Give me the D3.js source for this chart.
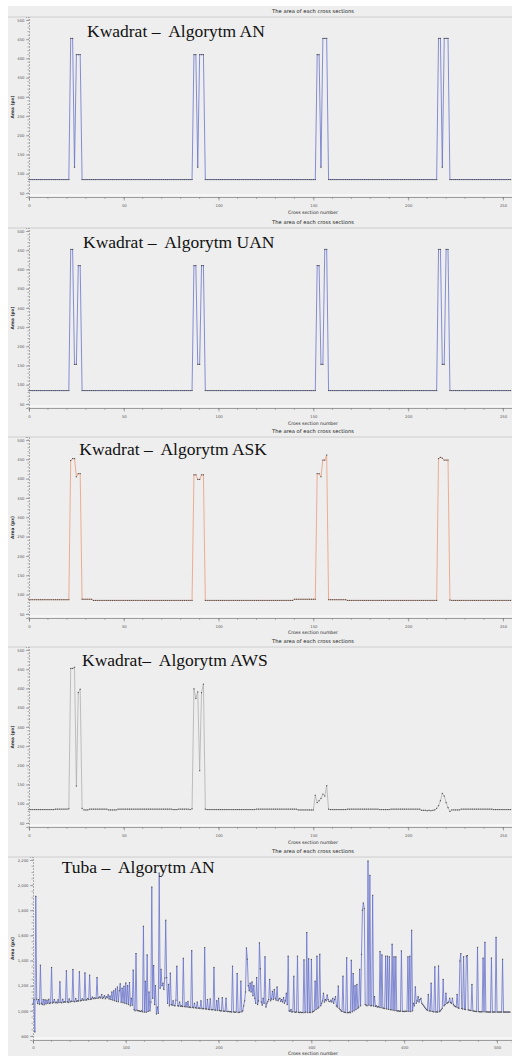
<!DOCTYPE html>
<html><head><meta charset="utf-8">
<script src="https://cdn.jsdelivr.net/npm/d3@7"></script>
<style>body{margin:0;background:#fff}svg{display:block}</style>
</head><body><div id="chart"></div>
<script>
// ---------- DATA ----------
const kwadratXTicks = [0, 50, 100, 150, 200, 250];
const kwadratYTicks = [50, 100, 150, 200, 250, 300, 350, 400, 450, 500];
const tubaXTicks = [0, 100, 200, 300, 400, 500];
const tubaYTicks = [800, 1000, 1200, 1400, 1600, 1800, 2000, 2200];
const chartTitle = "The area of each cross sections";
const xAxisTitle = "Cross section number";
const yAxisTitle = "Area (px)";

const anValues = [
85,85,85,85,85,85,85,85,85,85,85,85,85,85,85,
85,85,85,85,85,85,85,452,452,117,410,410,410,85,85,
85,85,85,85,85,85,85,85,85,85,85,85,85,85,85,
85,85,85,85,85,85,85,85,85,85,85,85,85,85,85,
85,85,85,85,85,85,85,85,85,85,85,85,85,85,85,
85,85,85,85,85,85,85,85,85,85,85,85,410,410,117,
410,410,410,85,85,85,85,85,85,85,85,85,85,85,85,
85,85,85,85,85,85,85,85,85,85,85,85,85,85,85,
85,85,85,85,85,85,85,85,85,85,85,85,85,85,85,
85,85,85,85,85,85,85,85,85,85,85,85,85,85,85,
85,85,410,410,117,452,452,452,85,85,85,85,85,85,85,
85,85,85,85,85,85,85,85,85,85,85,85,85,85,85,
85,85,85,85,85,85,85,85,85,85,85,85,85,85,85,
85,85,85,85,85,85,85,85,85,85,85,85,85,85,85,
85,85,85,85,85,85,452,452,117,452,452,452,85,85,85,
85,85,85,85,85,85,85,85,85,85,85,85,85,85,85,
85,85,85,85,85,85,85,85,85,85,85,85,85,85,85];

const uanValues = [
85,85,85,85,85,85,85,85,85,85,85,85,85,85,85,
85,85,85,85,85,85,85,452,452,153,153,410,410,85,85,
85,85,85,85,85,85,85,85,85,85,85,85,85,85,85,
85,85,85,85,85,85,85,85,85,85,85,85,85,85,85,
85,85,85,85,85,85,85,85,85,85,85,85,85,85,85,
85,85,85,85,85,85,85,85,85,85,85,85,410,410,153,
153,410,410,85,85,85,85,85,85,85,85,85,85,85,85,
85,85,85,85,85,85,85,85,85,85,85,85,85,85,85,
85,85,85,85,85,85,85,85,85,85,85,85,85,85,85,
85,85,85,85,85,85,85,85,85,85,85,85,85,85,85,
85,85,410,410,153,153,452,452,85,85,85,85,85,85,85,
85,85,85,85,85,85,85,85,85,85,85,85,85,85,85,
85,85,85,85,85,85,85,85,85,85,85,85,85,85,85,
85,85,85,85,85,85,85,85,85,85,85,85,85,85,85,
85,85,85,85,85,85,452,452,153,153,452,452,85,85,85,
85,85,85,85,85,85,85,85,85,85,85,85,85,85,85,
85,85,85,85,85,85,85,85,85,85,85,85,85,85,85];

const askValues = [
87,87,87,87,87,87,87,87,87,87,87,87,87,87,87,
87,87,87,87,87,87,87,447,452,452,405,413,413,88,88,
88,88,88,88,85,85,85,85,85,85,85,85,85,85,85,
85,85,85,85,85,85,85,85,85,85,85,85,85,85,85,
85,85,85,85,85,85,85,85,85,85,85,85,85,85,85,
85,85,85,85,85,85,85,85,85,85,85,85,410,410,398,
398,410,410,85,85,85,85,85,85,85,85,85,85,85,85,
85,85,85,85,85,85,85,85,85,85,85,85,85,85,85,
85,85,85,85,85,85,85,85,85,85,85,85,85,85,85,
85,85,85,85,85,88,88,88,88,88,88,88,88,88,88,
88,88,413,413,405,448,448,461,87,87,87,87,87,87,87,
87,87,87,85,85,85,85,85,85,85,85,85,85,85,85,
85,85,85,85,85,85,85,85,85,85,85,85,85,85,85,
85,85,85,85,85,85,85,85,85,85,85,85,85,85,85,
85,85,85,85,85,85,452,455,453,448,448,448,86,85,85,
85,85,85,85,85,85,85,85,85,85,85,85,85,85,85,
85,85,85,85,85,85,85,85,85,85,85,85,85,85,85];

const awsValues = [
85,85,85,85,85,85,85,85,85,85,85,85,85,85,86,
86,86,86,86,86,86,87,452,452,455,146,389,398,88,84,
84,84,86,86,86,86,86,86,86,86,86,86,84,84,84,
84,84,86,86,86,86,86,86,86,86,86,86,86,86,86,
86,86,86,86,86,86,86,86,86,86,86,86,86,86,86,
86,85,85,85,86,86,86,86,86,86,85,87,399,374,391,
186,389,411,86,85,85,85,85,85,85,85,85,85,85,85,
85,85,85,85,85,85,85,85,85,85,85,85,85,85,85,
86,86,86,86,86,86,86,86,86,86,86,86,86,86,86,
86,86,86,86,86,86,86,84,84,84,84,84,84,84,84,
84,122,103,108,114,125,120,147,86,85,85,85,85,85,85,
85,85,85,86,86,86,86,86,86,86,86,86,86,86,86,
86,86,86,86,86,85,85,85,85,85,85,86,86,86,86,
86,86,86,86,86,86,86,86,86,86,86,86,83,83,83,
82,83,82,83,84,88,95,108,127,120,103,90,80,84,84,
84,84,84,86,86,86,86,86,86,86,86,86,86,86,86,
86,86,86,86,86,85,85,85,85,85,85,85,85,85,85];

const tubaValues = [
1054,1090,832,1911,1092,1058,1090,1052,1363,1060,
1050,1090,1048,1088,1055,1085,1060,1092,1058,1065,
1345,1062,1068,1090,1064,1070,1062,1088,1066,1231,
1068,1064,1092,1068,1072,1070,1318,1072,1066,1095,
1070,1078,1074,1329,1076,1072,1098,1075,1080,1078,
1310,1080,1082,1096,1084,1086,1302,1085,1088,1098,
1090,1284,1092,1094,1110,1096,1104,1098,1100,1265,
1100,1104,1112,1102,1130,1098,1108,1120,1096,1112,
1104,1128,1094,1118,1090,1150,1085,1160,1080,1175,
1075,1190,1072,1160,1215,1068,1180,1065,1195,1060,
1222,1055,1200,1050,1225,1040,1100,1045,1324,1010,
1000,1456,1005,1000,1002,998,995,1000,992,1673,
990,1235,988,1445,995,1150,1000,1070,1985,1100,
1360,1050,1200,975,1030,980,2096,1180,1330,1200,
1220,1170,1260,1721,1265,1060,1210,1040,1300,1050,
1045,1080,1042,1040,1085,1355,1040,1038,1070,1036,
1040,1034,1418,1035,1032,1065,1030,1075,1028,1030,
1026,1479,1028,1024,1060,1025,1022,1070,1020,1024,
1018,1080,1020,1016,1018,1503,1015,1014,1090,1012,
1010,1095,1010,1008,1010,1345,1006,1004,1080,1004,
1100,1002,1000,1000,1105,998,996,998,1100,995,
994,996,992,994,990,1355,992,990,988,992,
1297,988,986,990,1236,992,1000,1040,1080,1150,
1500,1410,1200,1160,1220,1150,1230,1120,1200,1100,
1060,1265,1050,1080,1541,1335,1070,1045,1100,1060,
1430,1030,1060,1075,1090,1250,1080,1095,1155,1090,
1170,1100,1085,1190,1080,1095,1100,1075,1090,1070,
1105,1060,1080,1140,1050,1435,1000,995,1010,990,
994,1275,990,988,992,1435,988,986,990,986,
988,985,1406,986,990,1623,985,1414,988,986,
1409,990,995,1000,1236,1010,1435,1020,1030,1450,
1040,1060,1080,1140,1070,1090,1080,1126,1090,1075,
1073,1085,1070,1100,1060,1090,1113,1040,1030,1197,
1020,1010,1000,995,1276,990,988,986,1422,985,
986,990,985,1402,992,1297,1000,1200,1010,1210,
1020,1030,1330,1040,1450,1800,1858,1813,1050,1045,
1040,2192,1045,2078,1040,1042,1919,1038,1113,1035,
1040,1030,1035,1028,1472,1025,1445,1022,1020,1018,
1435,1015,1435,1012,1430,1010,1008,1530,1005,1430,
1002,1430,1000,998,1000,996,998,1477,995,996,
994,998,995,996,1430,995,1435,994,1641,1000,
1060,1040,1190,1060,1080,1113,1070,1090,1100,1060,
1050,1040,1030,1020,1010,1005,1130,1000,998,1220,
996,994,992,1350,990,992,990,1357,994,1000,
1010,1020,1250,1040,1050,1140,1060,1065,1070,1100,
1065,1060,1100,1050,1040,1035,1030,1130,1025,1020,
1396,1455,1018,1015,1430,1012,1010,1435,1440,1008,
1005,1004,1002,1210,1000,998,996,995,994,1505,
994,993,992,993,992,1420,992,1545,991,992,
991,990,991,990,1420,990,991,990,990,1585,
990,991,990,990,991,990,1410,990,990,991,
990,990,991,990,990];

// ---------- LAYOUT ----------
const W = 512, H = 1056;
const panels = [
  {name:"Kwadrat –  Algorytm AN",  data:anValues,  color:"#6a74cc", top:17,  axis:197,  titleY:13,   tickY:207,   xlabY:214,  bx:87, by:37.3, kind:"kw"},
  {name:"Kwadrat –  Algorytm UAN", data:uanValues, color:"#6a74cc", top:228, axis:408,  titleY:224,  tickY:418,   xlabY:425,  bx:83, by:248.3, kind:"kw"},
  {name:"Kwadrat –  Algorytm ASK", data:askValues, color:"#eb9a78", top:437, axis:618,  titleY:433,  tickY:627.5, xlabY:634,  bx:79.3, by:455, kind:"kw"},
  {name:"Kwadrat–  Algorytm AWS",  data:awsValues, color:"#b0b0b0", top:647, axis:827,  titleY:643,  tickY:837,   xlabY:844,  bx:82, by:666, kind:"kw"},
  {name:"Tuba –  Algorytm AN",     data:tubaValues,color:"#6a74cc", top:857, axis:1040, titleY:852.5,tickY:1049,  xlabY:1055, bx:61.7, by:873.3, kind:"tuba"}
];

const svg = d3.select("#chart").append("svg").attr("width", W).attr("height", H);
svg.append("rect").attr("width", W).attr("height", H).attr("fill", "#fff");
svg.append("rect").attr("x", 8).attr("y", 6).attr("width", W - 8).attr("height", H - 6).attr("fill", "#eeeeee");

const smallFont = "DejaVu Sans, sans-serif";

panels.forEach(p => {
  const g = svg.append("g");
  const isKw = p.kind === "kw";
  const x0 = isKw ? 29 : 33;
  const x = isKw ? d3.scaleLinear().domain([0, 255]).range([29, 29 + 255 * 1.896])
                 : d3.scaleLinear().domain([0, 516]).range([33, 33 + 516 * 0.928]);
  const y = isKw ? d3.scaleLinear().domain([39.6, 507.8]).range([p.axis, p.top])
                 : d3.scaleLinear().domain([768, 2224]).range([p.axis, p.top]);
  const xTicks = isKw ? kwadratXTicks : tubaXTicks;
  const yTicks = isKw ? kwadratYTicks : tubaYTicks;
  const minorStepX = isKw ? 10 : 20;
  const minorStepY = isKw ? 10 : 50;

  // title + separator line
  g.append("text").attr("x", 313).attr("y", p.titleY).attr("text-anchor", "middle")
    .attr("font-family", smallFont).attr("font-size", 5.2).attr("fill", "#222").text(chartTitle);
  g.append("line").attr("x1", 8).attr("x2", W).attr("y1", p.top).attr("y2", p.top)
    .attr("stroke", "#c4c4c4").attr("stroke-width", 0.8);
  g.append("line").attr("x1", x0).attr("x2", W).attr("y1", p.axis - 2).attr("y2", p.axis - 2)
    .attr("stroke", "#ffffff").attr("stroke-width", 1);

  // y axis
  const yMinor = d3.range(Math.ceil(y.domain()[0] / minorStepY) * minorStepY, y.domain()[1], minorStepY);
  g.append("g").selectAll("line").data(yMinor).join("line")
    .attr("x1", x0 - 1.5).attr("x2", x0).attr("y1", d => y(d)).attr("y2", d => y(d))
    .attr("stroke", "#888").attr("stroke-width", 0.6);
  const yAx = g.append("g").attr("transform", `translate(${x0},0)`)
    .call(d3.axisLeft(y).tickValues(yTicks).tickSize(3).tickPadding(1.5)
      .tickFormat(isKw ? d3.format("d") : d3.format(",")));
  yAx.select(".domain").attr("stroke", "#999").attr("stroke-width", 0.8).attr("stroke-dasharray", "2,1");
  yAx.selectAll(".tick line").attr("stroke", "#777").attr("stroke-width", 0.6);
  yAx.selectAll(".tick text").attr("font-family", smallFont).attr("font-size", 3.8).attr("fill", "#555");

  // x axis
  const xMinor = d3.range(0, x.domain()[1], minorStepX);
  g.append("g").selectAll("line").data(xMinor).join("line")
    .attr("x1", d => x(d)).attr("x2", d => x(d)).attr("y1", p.axis).attr("y2", p.axis + 2)
    .attr("stroke", "#888").attr("stroke-width", 0.6);
  const xAx = g.append("g").attr("transform", `translate(0,${p.axis})`)
    .call(d3.axisBottom(x).tickValues(xTicks).tickSize(3.5).tickFormat(d3.format("d")));
  xAx.select(".domain").attr("stroke", "#888").attr("stroke-width", 0.8);
  xAx.selectAll(".tick line").attr("stroke", "#777").attr("stroke-width", 0.6);
  xAx.selectAll(".tick text").attr("font-family", smallFont).attr("font-size", 3.8).attr("fill", "#555")
    .attr("y", p.tickY - p.axis).attr("dy", 0);

  g.append("text").attr("x", 313).attr("y", p.xlabY).attr("text-anchor", "middle")
    .attr("font-family", smallFont).attr("font-size", 4.6).attr("fill", "#222").text(xAxisTitle);
  const midY = (p.top + p.axis) / 2;
  g.append("text").attr("transform", `translate(13.5,${midY}) rotate(-90)`).attr("text-anchor", "middle")
    .attr("font-family", smallFont).attr("font-size", 4.4).attr("font-weight", "bold").attr("fill", "#333").text(yAxisTitle);

  // series
  const pts = p.data.map((v, i) => [i, v]);
  const line = d3.line().x(d => x(d[0])).y(d => y(d[1]));
  g.append("path").attr("d", line(pts)).attr("fill", "none")
    .attr("stroke", p.color).attr("stroke-width", 0.8).attr("stroke-linejoin", "round");
  g.append("g").selectAll("rect").data(pts).join("rect")
    .attr("x", d => x(d[0]) - 0.6).attr("y", d => y(d[1]) - 0.55)
    .attr("width", 1.2).attr("height", 1.1).attr("fill", "#555");

  // overlay label
  g.append("text").attr("x", p.bx).attr("y", p.by).attr("xml:space", "preserve")
    .style("white-space", "pre")
    .attr("font-family", "Liberation Serif, Times New Roman, serif").attr("font-size", 17.5)
    .attr("fill", "#111").text(p.name);
});
</script></body></html>
